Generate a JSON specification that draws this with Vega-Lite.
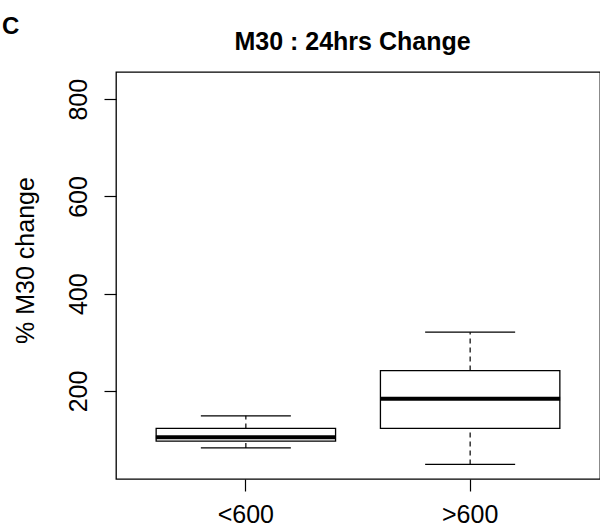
{
  "$schema": "https://vega.github.io/schema/vega-lite/v6.json",
  "width": 484,
  "height": 407,
  "autosize": {"type": "none"},
  "padding": {"left": 116, "top": 72, "right": 0, "bottom": 49},
  "background": "white",
  "title": {"text": "C", "anchor": "start", "frame": "group", "dx": -114, "dy": 25, "offset": -4, "baseline": "alphabetic", "fontSize": 24, "fontWeight": "bold", "font": "Liberation Sans", "color": "black"},
  "config": {
    "view": {"stroke": "black", "strokeWidth": 1.3},
    "font": "Liberation Sans",
    "axis": {"grid": false}
  },
  "data": {"values": [
    {"group": "<600", "lower": 83, "q1": 97, "median": 105, "q3": 123, "upper": 149},
    {"group": ">600", "lower": 49, "q1": 123, "median": 184, "q3": 242, "upper": 321}
  ]},
  "resolve": {"axis": {"x": "independent"}},
  "layer": [
    {
      "mark": {"type": "rule", "color": "black", "strokeWidth": 1.2, "strokeDash": [5, 4]},
      "encoding": {
        "x": {"field": "group", "type": "nominal", "scale": {"domain": ["<600", ">600"], "paddingInner": 0, "paddingOuter": 0.079},
          "axis": {"orient": "bottom", "title": null, "domain": false, "tickSize": 12, "tickColor": "black", "tickWidth": 1.2, "labelAngle": 0, "labelFontSize": 25, "labelColor": "black", "labelFont": "Liberation Sans", "labelBaseline": "alphabetic", "labelPadding": 31}},
        "y": {"field": "lower", "type": "quantitative", "scale": {"domain": [19, 856], "nice": false, "zero": false},
          "axis": {"values": [200, 400, 600, 800], "domain": false, "tickSize": 12, "tickColor": "black", "tickWidth": 1.2, "labelAngle": 270, "labelAlign": "center", "labelBaseline": "alphabetic", "labelPadding": 18, "labelFontSize": 25, "labelColor": "black", "labelFont": "Liberation Sans",
            "title": "% M30 change", "titleFontSize": 25, "titleFontWeight": "normal", "titleColor": "black", "titleFont": "Liberation Sans", "titleX": -83, "titleY": 188, "titleAngle": 270, "titleAlign": "center", "titleBaseline": "alphabetic"}},
        "y2": {"field": "q1"}
      }
    },
    {
      "mark": {"type": "rule", "color": "black", "strokeWidth": 1.2, "strokeDash": [5, 4]},
      "encoding": {
        "x": {"field": "group", "type": "nominal", "axis": null},
        "y": {"field": "q3", "type": "quantitative"},
        "y2": {"field": "upper"}
      }
    },
    {
      "mark": {"type": "tick", "color": "black", "opacity": 1, "size": 90, "thickness": 1.3},
      "encoding": {
        "x": {"field": "group", "type": "nominal", "axis": null},
        "y": {"field": "lower", "type": "quantitative"}
      }
    },
    {
      "mark": {"type": "tick", "color": "black", "opacity": 1, "size": 90, "thickness": 1.3},
      "encoding": {
        "x": {"field": "group", "type": "nominal", "axis": null},
        "y": {"field": "upper", "type": "quantitative"}
      }
    },
    {
      "mark": {"type": "bar", "fill": "white", "stroke": "black", "strokeWidth": 1.3, "width": {"band": 0.8}},
      "encoding": {
        "x": {"field": "group", "type": "nominal",
          "axis": {"orient": "top", "labels": false, "ticks": false, "domain": false, "title": "M30 : 24hrs Change", "titleFontSize": 25, "titleFontWeight": "bold", "titleColor": "black", "titleFont": "Liberation Sans", "titleX": 236, "titleY": -23, "titleAlign": "center", "titleBaseline": "alphabetic"}},
        "y": {"field": "q1", "type": "quantitative"},
        "y2": {"field": "q3"}
      }
    },
    {
      "mark": {"type": "tick", "color": "black", "opacity": 1, "size": 180, "thickness": 4},
      "encoding": {
        "x": {"field": "group", "type": "nominal", "axis": null},
        "y": {"field": "median", "type": "quantitative"}
      }
    }
  ]
}
